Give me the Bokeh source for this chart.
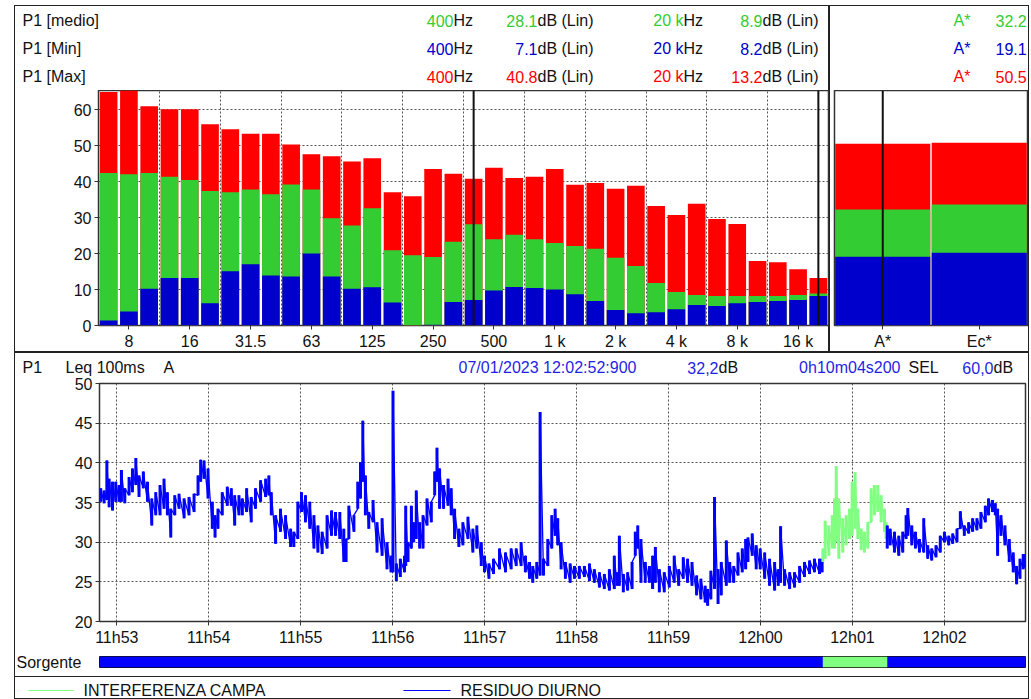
from bokeh.plotting import figure
from bokeh.models import Range1d, FactorRange, FixedTicker, Span, Spacer
from bokeh.layouts import row, column
from bokeh.core.properties import value
from bokeh.embed import file_html
from bokeh.resources import INLINE

# ---------------- data : 1/3 octave spectrum ----------------
bands = ["6.3", "8", "10", "12.5", "16", "20", "25", "31.5", "40", "50", "63", "80",
         "100", "125", "160", "200", "250", "315", "400", "500", "630", "800", "1 k", "1.25 k",
         "1.6 k", "2 k", "2.5 k", "3.15 k", "4 k", "5 k", "6.3 k", "8 k", "10 k", "12.5 k", "16 k", "20 k"]
band_ticks = ["8", "16", "31.5", "63", "125", "250", "500", "1 k", "2 k", "4 k", "8 k", "16 k"]
lmax = [64.9, 65.6, 60.9, 60.1, 60.1, 55.9, 54.5, 53.3, 53.3, 50.3, 47.6, 47.0,
        45.6, 46.5, 37.0, 35.9, 43.5, 42.2, 40.8, 43.8, 41.0, 41.3, 43.5, 39.1,
        39.6, 38.0, 38.8, 33.2, 30.7, 33.8, 29.6, 28.2, 17.9, 17.6, 15.6, 13.2]
lmed = [42.4, 42.0, 42.4, 41.3, 40.4, 37.4, 37.0, 37.8, 36.5, 39.2, 37.8, 29.8,
        27.8, 32.6, 20.9, 19.5, 19.0, 23.3, 28.1, 24.0, 25.2, 24.0, 22.9, 22.1,
        21.3, 18.8, 16.5, 11.8, 9.3, 8.5, 8.2, 8.2, 8.2, 8.2, 8.5, 8.9]
lmin = [1.4, 3.9, 10.2, 13.2, 13.2, 6.2, 15.1, 17.0, 13.9, 13.6, 20.0, 13.6,
        10.2, 10.6, 6.4, 0.0, 0.2, 6.5, 7.1, 9.7, 10.7, 10.4, 10.0, 8.7,
        6.8, 4.3, 3.4, 3.7, 4.5, 5.7, 5.4, 6.2, 6.5, 6.8, 7.1, 8.2]
cursor_bands = ["400", "20 k"]

glob_bands = ["A*", "Ec*"]
gmax = [50.5, 50.8]
gmed = [32.2, 33.6]
gmin = [19.1, 20.2]

# ---------------- data : time history (Leq 100ms, envelope per time step) ----------------
meas_start = "11:52:48.7"
meas_dur_s = 604.2
t_s = [0.8, 3.0, 4.8, 6.3, 8.5, 10.6, 12.8, 14.3, 16.5, 19.3,
       21.5, 23.7, 25.8, 28.6, 31.3, 34.1, 36.7, 39.5, 42.1, 44.3,
       46.5, 49.1, 51.9, 55.2, 58.4, 61.7, 64.3, 66.0, 68.2, 70.8,
       73.6, 75.4, 77.3, 80.1, 83.4, 86.0, 88.2, 91.0, 93.2, 96.0,
       99.0, 101.8, 105.1, 108.4, 110.5, 112.1, 114.9, 118.1, 121.4, 124.7,
       126.8, 129.4, 131.8, 134.4, 137.2, 139.9, 142.5, 145.3, 148.5, 151.4,
       154.0, 156.8, 159.4, 160.9, 162.7, 166.0, 168.5, 170.3, 171.8, 173.5,
       175.7, 178.5, 181.1, 184.4, 187.6, 190.2, 191.5, 193.7, 196.3, 199.0,
       199.8, 201.3, 203.5, 205.0, 206.7, 208.9, 211.1, 213.7, 216.5, 218.7,
       220.2, 221.9, 224.5, 227.4, 229.5, 231.7, 234.5, 237.1, 240.4, 243.6,
       246.2, 249.1, 251.2, 254.1, 257.1, 261.0, 264.9, 268.6, 271.9, 275.1,
       277.9, 280.6, 282.7, 285.3, 287.5, 289.7, 292.5, 295.1, 297.3, 299.0,
       301.2, 304.0, 307.1, 309.9, 313.1, 316.4, 319.7, 322.9, 326.2, 329.4,
       332.7, 335.9, 337.7, 339.2, 341.8, 344.6, 347.5, 349.6, 351.2, 353.3,
       356.1, 358.8, 360.9, 362.7, 365.3, 368.5, 371.8, 375.0, 377.9, 380.9,
       383.7, 386.6, 389.6, 392.4, 395.2, 396.8, 398.9, 401.3, 403.6, 405.7,
       409.0, 411.2, 413.8, 416.6, 419.4, 421.6, 423.1, 425.9, 428.5, 431.1,
       434.0, 437.2, 440.5, 442.9, 444.4, 447.0, 450.3, 453.5, 456.8, 460.0,
       463.3, 466.5, 469.8, 471.5, 472.0, 473.5, 475.9, 478.1, 479.6, 480.7,
       482.4, 485.0, 487.2, 489.4, 491.1, 493.0, 494.8, 497.0, 499.1, 501.3,
       503.5, 505.6, 507.8, 510.0, 512.2, 513.2, 514.0, 515.9, 518.7, 521.5,
       524.1, 526.3, 527.4, 530.0, 532.4, 535.0, 537.8, 540.4, 543.0, 545.8,
       548.6, 551.3, 554.1, 556.7, 559.5, 561.7, 564.3, 567.1, 569.7, 572.5,
       575.1, 578.0, 580.1, 582.7, 584.5, 586.0, 588.2, 590.8, 593.6, 596.2,
       598.4, 600.6, 602.7, 604.0]
lo_db = [35.1, 34.9, 35.3, 34.4, 34.0, 35.1, 35.1, 35.1, 34.9, 35.9,
         36.3, 37.2, 35.7, 36.8, 35.1, 32.1, 33.4, 33.4, 34.2, 33.4,
         30.6, 33.4, 34.2, 33.0, 33.4, 33.8, 35.9, 37.6, 38.0, 35.5,
         31.7, 30.6, 31.7, 33.4, 34.6, 34.6, 32.1, 33.4, 33.4, 33.8,
         32.5, 34.2, 35.1, 35.7, 35.9, 33.4, 29.8, 31.3, 30.4, 29.4,
         29.4, 30.4, 33.8, 32.5, 31.7, 29.2, 28.7, 28.5, 29.2, 30.8,
         30.8, 30.4, 27.5, 27.5, 30.4, 31.3, 34.2, 35.5, 37.6, 33.4,
         31.7, 32.5, 28.7, 28.3, 26.6, 26.2, 26.2, 25.1, 25.6, 26.2,
         27.0, 27.5, 29.2, 30.0, 30.4, 29.2, 29.2, 32.1, 32.5, 35.9,
         37.6, 34.2, 34.2, 34.6, 33.4, 30.4, 29.4, 29.6, 30.4, 28.7,
         29.2, 27.0, 26.2, 25.4, 26.0, 26.6, 26.2, 26.6, 27.0, 27.0,
         26.2, 25.4, 24.9, 25.4, 25.8, 25.8, 27.0, 29.2, 30.8, 29.6,
         26.6, 25.4, 24.9, 25.4, 25.4, 25.6, 25.1, 24.9, 24.3, 24.1,
         23.9, 24.1, 24.5, 24.5, 23.7, 23.9, 24.1, 28.3, 29.2, 24.9,
         24.9, 24.9, 24.1, 24.9, 23.7, 23.7, 24.3, 24.9, 24.5, 25.4,
         24.9, 24.5, 23.3, 22.8, 22.4, 22.0, 22.8, 24.1, 22.2, 23.3,
         24.5, 24.9, 24.9, 25.8, 26.2, 26.6, 27.5, 28.3, 26.6, 26.6,
         25.4, 24.5, 23.9, 24.5, 24.9, 24.5, 24.1, 24.3, 24.9, 25.6,
         26.0, 26.2, 26.0, 26.2, 27.5, 27.9, 28.3, 29.2, 29.2, 30.0,
         27.9, 28.7, 29.6, 30.4, 30.8, 31.7, 30.4, 29.0, 28.7, 29.2,
         32.5, 33.4, 33.8, 32.5, 31.3, 30.4, 29.2, 29.6, 28.7, 28.3,
         28.7, 30.4, 30.8, 29.6, 29.2, 28.7, 28.7, 27.9, 27.7, 28.1,
         28.7, 30.0, 29.6, 29.8, 30.0, 31.7, 30.8, 31.1, 31.3, 31.5,
         31.7, 32.5, 33.4, 33.8, 33.4, 28.3, 30.8, 29.6, 27.5, 26.2,
         24.7, 25.4, 26.6, 26.8]
hi_db = [36.8, 36.5, 40.3, 38.0, 37.6, 37.6, 37.2, 39.1, 36.8, 38.2,
         39.3, 40.6, 38.4, 38.9, 37.6, 35.5, 36.3, 37.2, 38.0, 36.3,
         34.2, 35.9, 36.1, 35.5, 35.7, 36.1, 38.4, 40.4, 40.3, 39.3,
         35.1, 33.4, 34.2, 36.3, 37.0, 36.8, 35.9, 35.9, 35.5, 36.8,
         35.7, 36.8, 37.8, 38.0, 38.4, 36.3, 33.4, 34.2, 33.4, 31.7,
         31.3, 35.1, 36.3, 35.9, 35.1, 33.4, 32.1, 31.3, 33.4, 34.0,
         33.8, 33.8, 31.7, 30.4, 34.6, 33.4, 37.6, 40.1, 45.3, 38.4,
         33.8, 35.3, 32.5, 33.0, 30.0, 28.3, 49.1, 27.3, 27.9, 28.3,
         34.6, 30.0, 34.6, 32.5, 36.5, 32.5, 33.4, 35.5, 35.1, 38.9,
         41.9, 39.3, 37.2, 38.0, 36.8, 34.2, 31.7, 32.5, 33.2, 31.7,
         32.1, 30.0, 28.3, 27.3, 27.9, 29.2, 28.7, 29.2, 29.2, 30.0,
         28.3, 27.5, 27.0, 27.5, 46.4, 27.9, 30.4, 33.4, 34.2, 33.0,
         30.0, 27.5, 27.3, 27.0, 27.0, 27.0, 27.3, 26.6, 26.2, 26.0,
         26.6, 28.3, 26.2, 30.8, 26.0, 26.2, 27.5, 31.3, 32.1, 30.4,
         27.5, 27.0, 28.3, 29.4, 26.6, 26.2, 27.0, 28.3, 26.6, 28.1,
         27.9, 27.5, 25.8, 25.4, 24.5, 24.1, 26.4, 35.7, 26.6, 27.5,
         30.2, 27.5, 27.0, 28.7, 29.2, 30.4, 30.6, 31.1, 29.6, 29.2,
         28.7, 27.9, 27.5, 26.6, 32.0, 26.6, 26.2, 26.2, 27.0, 27.5,
         27.7, 27.9, 27.9, 27.9, 29.2, 32.7, 32.1, 33.4, 35.5, 39.6,
         35.5, 33.0, 33.4, 34.2, 37.6, 38.8, 34.2, 31.7, 31.3, 32.5,
         36.8, 37.2, 37.2, 35.9, 34.2, 32.5, 32.1, 31.7, 31.3, 30.8,
         31.3, 33.4, 34.3, 32.1, 31.3, 30.4, 33.0, 29.6, 29.2, 29.6,
         30.8, 31.3, 30.8, 31.1, 31.7, 33.9, 32.1, 32.5, 33.0, 33.0,
         33.8, 34.6, 35.5, 35.3, 34.9, 34.2, 33.4, 32.1, 30.4, 28.7,
         27.0, 27.9, 28.5, 28.5]
minute_labels = ["11h53", "11h54", "11h55", "11h56", "11h57", "11h58", "11h59", "12h00", "12h01", "12h02"]

src_names = ["INTERFERENZA CAMPA", "RESIDUO DIURNO"]
src_colors = ["#80ff80", "#0000ff"]
seg_start_s = [0.0, 472.0, 514.0]
seg_end_s = [472.0, 514.0, 604.2]
seg_src = [1, 0, 1]

# ---------------- styling ----------------
FONT = "Liberation Sans"
FS = "16px"
RED, GREEN, BLUE = "#ff0000", "#33cc33", "#0000cc"
TXT_BLUE = "#1f1fe6"
BLACK = "#111111"
OUT = {"outline": "1px solid #222222", "outline-offset": "-1px"}
Y_TOP = 65.3


def style_axis(ax):
    ax.axis_line_color = None
    ax.major_tick_line_color = "#333333"
    ax.major_tick_in = 0
    ax.major_tick_out = 4
    ax.minor_tick_line_color = None
    ax.major_label_text_font = FONT
    ax.major_label_text_font_size = FS
    ax.major_label_text_color = BLACK
    ax.major_label_standoff = 3


def style_grid(g):
    g.grid_line_color = "#555555"
    g.grid_line_dash = "2 2"
    g.grid_line_width = 1


def strip(width, height, styles=None):
    """A figure used only to hold header / legend texts (pixel-like ranges)."""
    kw = dict(styles=styles) if styles else {}
    p = figure(width=width, height=height, output_backend="svg", toolbar_location=None,
               x_range=Range1d(0, width), y_range=Range1d(height, 0),
               x_axis_location=None, y_axis_location=None,
               min_border_left=0, min_border_right=0, min_border_top=0, min_border_bottom=0,
               border_fill_color=None, background_fill_color=None, outline_line_color=None, **kw)
    p.grid.visible = False
    return p


def put(p, x, y, text, color=BLACK, align="left"):
    p.text(x=[x], y=[y], text=[text], text_color=color, text_align=align,
           text_baseline="middle", text_font=value(FONT), text_font_size=FS)


# ---------------- panel A : spectrum ----------------
hA = strip(815, 85)
pA = figure(width=815, height=262, output_backend="svg", toolbar_location=None,
            x_range=Range1d(0, len(bands)), y_range=Range1d(0, Y_TOP),
            min_border_left=84, min_border_right=1, min_border_top=0, min_border_bottom=27,
            border_fill_color=None, background_fill_color=None,
            outline_line_color="#333333", outline_line_width=1.5)
xc = [i + 0.5 for i in range(len(bands))]
for vals, col in [(lmax, RED), (lmed, GREEN), (lmin, BLUE)]:
    pA.vbar(x=xc, top=vals, bottom=0, width=0.87, fill_color=col, line_color=None)
tick_pos = [bands.index(b) + 0.5 for b in band_ticks]
pA.xaxis.ticker = FixedTicker(ticks=tick_pos)
pA.xaxis.major_label_overrides = {tp: b for tp, b in zip(tick_pos, band_ticks)}
pA.xgrid.ticker = FixedTicker(ticks=[tp + 1.5 for tp in tick_pos[:-1]])
pA.yaxis.ticker = FixedTicker(ticks=[0, 10, 20, 30, 40, 50, 60])
style_axis(pA.xaxis[0]); style_axis(pA.yaxis[0])
style_grid(pA.xgrid[0]); style_grid(pA.ygrid[0])
for b in cursor_bands:
    pA.add_layout(Span(location=bands.index(b) + 0.5, dimension="height",
                       line_color="#111111", line_width=2))

i1, i2 = bands.index(cursor_bands[0]), bands.index(cursor_bands[1])
for y, name, vals, col in [(15, "P1 [medio]", lmed, GREEN), (43, "P1 [Min]", lmin, BLUE),
                           (71, "P1 [Max]", lmax, RED)]:
    put(hA, 8, y, name)
    put(hA, 439, y, bands[i1], col, "right"); put(hA, 439, y, "Hz")
    put(hA, 523, y, f"{vals[i1]:.1f}", col, "right"); put(hA, 523, y, "dB (Lin)")
    put(hA, 669, y, bands[i2], col, "right"); put(hA, 669, y, "Hz")
    put(hA, 748, y, f"{vals[i2]:.1f}", col, "right"); put(hA, 748, y, "dB (Lin)")
colA = column(row(hA), pA, styles=OUT)

# ---------------- panel B : global values ----------------
hB = strip(200, 85)
pB = figure(width=200, height=262, output_backend="svg", toolbar_location=None,
            x_range=FactorRange(*glob_bands), y_range=Range1d(0, Y_TOP),
            y_axis_location=None,
            min_border_left=5, min_border_right=2, min_border_top=0, min_border_bottom=27,
            border_fill_color=None, background_fill_color=None,
            outline_line_color="#333333", outline_line_width=1.5)
for vals, col in [(gmax, RED), (gmed, GREEN), (gmin, BLUE)]:
    pB.vbar(x=glob_bands, top=vals, bottom=0, width=0.985, fill_color=col, line_color=None)
style_axis(pB.xaxis[0])
pB.grid.visible = False
pB.add_layout(Span(location=0.5, dimension="height", line_color="#111111", line_width=2))
for y, vals, col in [(15, gmed, GREEN), (43, gmin, BLUE), (71, gmax, RED)]:
    put(hB, 124, y, glob_bands[0], col)
    put(hB, 166, y, f"{vals[0]:.1f}", col)
colB = column(row(hB), pB, styles=OUT)

# ---------------- panel C : time history ----------------
hh, mm, ss = meas_start.split(":")
start_sod = int(hh) * 3600 + int(mm) * 60 + float(ss)
minute_pos = [int(m[:2]) * 3600 + int(m[3:]) * 60 for m in minute_labels]

hC = strip(1015, 25)
put(hC, 8, 15, "P1")
put(hC, 51, 15, "Leq 100ms")
put(hC, 149, 15, "A")
put(hC, 444, 15, "07/01/2023 12:02:52:900", TXT_BLUE)
put(hC, 704, 15, "32,2", TXT_BLUE, "right"); put(hC, 704, 15, "dB")
put(hC, 886, 15, "0h10m04s200", TXT_BLUE, "right")
put(hC, 894, 15, "SEL")
put(hC, 979, 15, "60,0", TXT_BLUE, "right"); put(hC, 979, 15, "dB")

pC = figure(width=1015, height=271, output_backend="svg", toolbar_location=None,
            x_range=Range1d(start_sod, start_sod + meas_dur_s), y_range=Range1d(20, 50),
            min_border_left=85, min_border_right=4, min_border_top=6, min_border_bottom=26,
            border_fill_color=None, background_fill_color=None,
            outline_line_color="#333333", outline_line_width=1.5)
pC.xaxis.ticker = FixedTicker(ticks=minute_pos)
pC.xaxis.major_label_overrides = {mp: m for mp, m in zip(minute_pos, minute_labels)}
pC.yaxis.ticker = FixedTicker(ticks=[20, 25, 30, 35, 40, 45, 50])
style_axis(pC.xaxis[0]); style_axis(pC.yaxis[0])
style_grid(pC.xgrid[0]); style_grid(pC.ygrid[0])

for k in range(len(seg_start_s)):
    last = (k == len(seg_start_s) - 1)
    xs, los, his = [], [], []
    for t, lo, hi in zip(t_s, lo_db, hi_db):
        if seg_start_s[k] <= t < seg_end_s[k] or (last and t == seg_end_s[k]):
            xs.append(start_sod + t); los.append(lo); his.append(hi)
    col = src_colors[seg_src[k]]
    pC.segment(x0=xs, y0=los, x1=xs, y1=his, line_color=col, line_width=3)
    zx, zy = [], []
    for x, lo, hi in zip(xs, los, his):
        zx += [x, x]; zy += [lo, hi]
    pC.line(zx, zy, line_color=col, line_width=1.3)

# ---------------- source bar ----------------
hS = strip(85, 28)
put(hS, 2, 14, "Sorgente")
pS = figure(width=930, height=28, output_backend="svg", toolbar_location=None,
            x_range=pC.x_range, y_range=Range1d(0, 1),
            x_axis_location=None, y_axis_location=None,
            min_border_left=0, min_border_right=4, min_border_top=8, min_border_bottom=9,
            border_fill_color=None, background_fill_color=None,
            outline_line_color="#111111", outline_line_width=1)
pS.quad(left=[start_sod + s for s in seg_start_s], right=[start_sod + e for e in seg_end_s],
        bottom=0, top=1, fill_color=[src_colors[i] for i in seg_src], line_color=None)
pS.grid.visible = False

# ---------------- legend row ----------------
pL = strip(1015, 23, styles=OUT)
key_x = [[14, 59], [389, 436]]
for name, col, kx in zip(src_names, src_colors, key_x):
    pL.line(kx, [14, 14], line_color=col, line_width=1.2)
    put(pL, kx[1] + 10, 14, name)

top_row = row(Spacer(width=14, height=347), colA, colB)
bottom_group = column(row(hC), pC, row(column(hS), pS), row(pL), styles=OUT)
bottom_row = row(Spacer(width=14, height=347), bottom_group)
layout = column(Spacer(width=10, height=5), top_row, bottom_row)

open("out.html", "w").write(file_html(layout, INLINE))
